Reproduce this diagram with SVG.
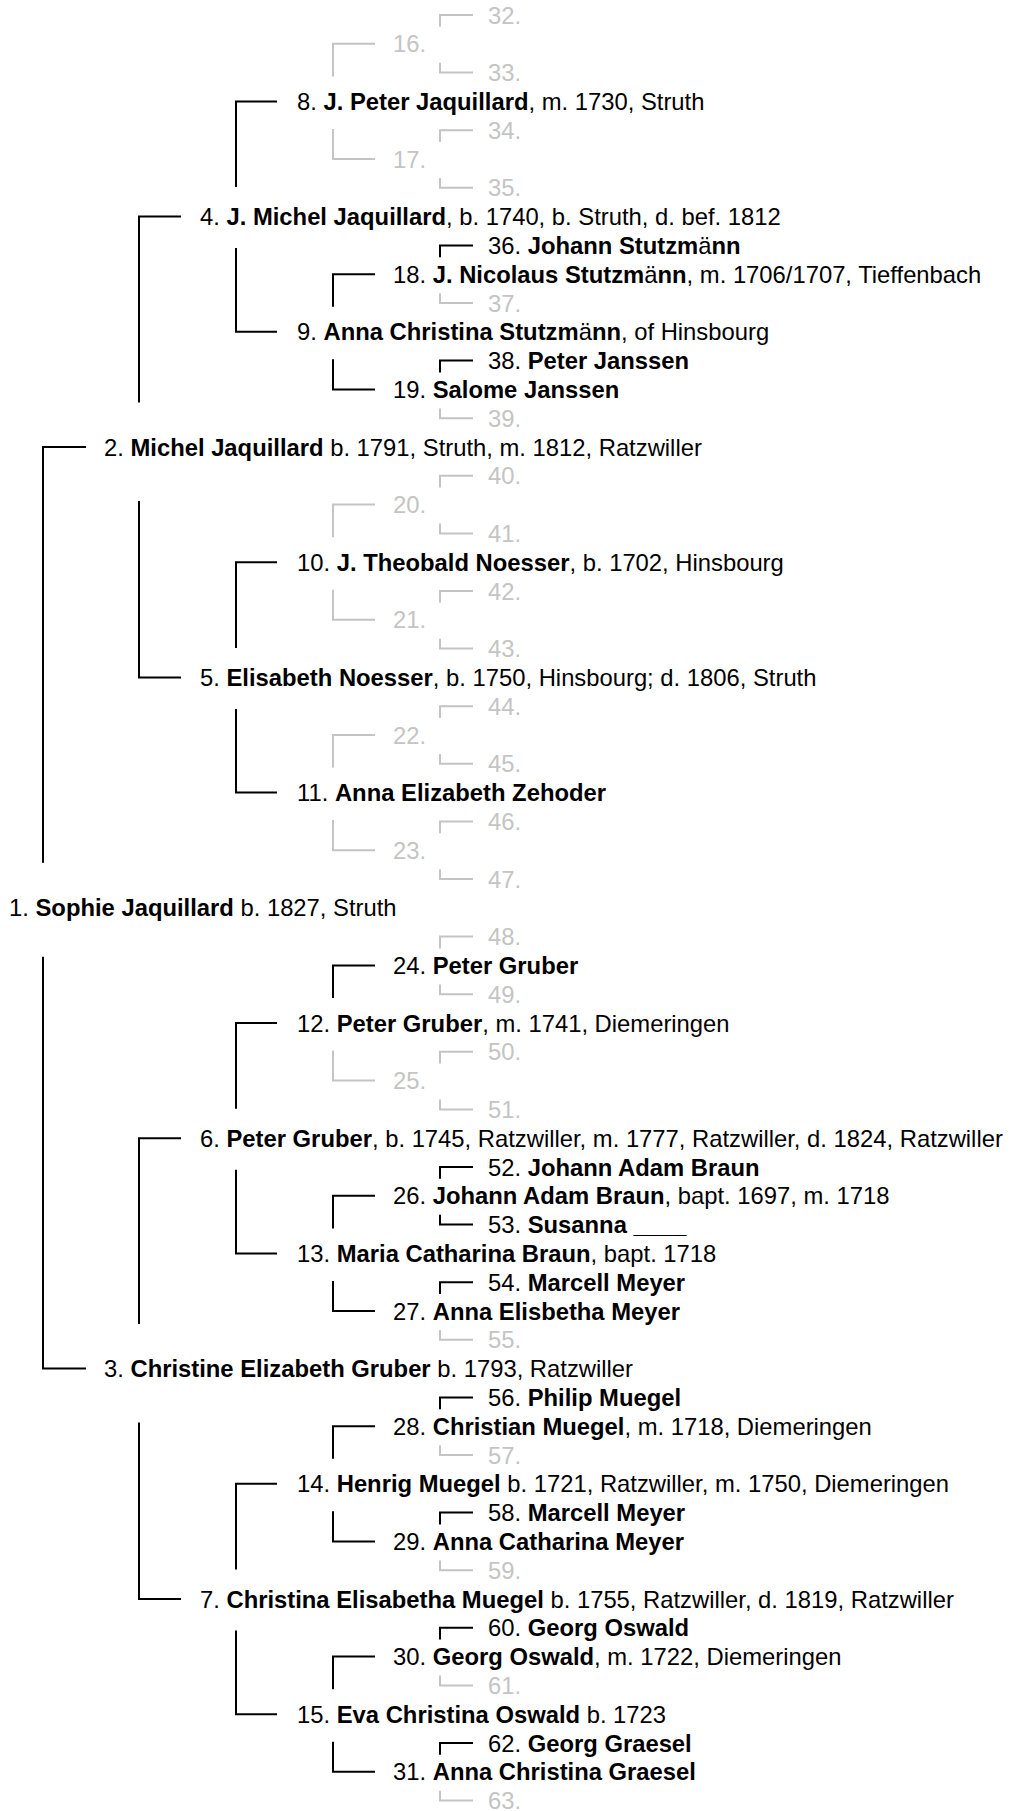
<svg xmlns="http://www.w3.org/2000/svg" width="1010" height="1811" viewBox="0 0 1010 1811">
<style>
text { font-family: "Liberation Sans", Arial, Helvetica, sans-serif; font-size: 23.8px; fill: #000; }
text.u { fill: #c4c4c4; }
.b { font-weight: bold; }
.n { font-weight: normal; }
path { fill: none; stroke-width: 2; stroke-linejoin: miter; stroke-linecap: butt; }
path.k { stroke: #000; }
path.u { stroke: #c4c4c4; }
</style>
<rect width="1010" height="1811" fill="#fff"/>
<g id="connectors">
<!-- person 1 -->
<path class="k" d="M86,447 H43 V862.8"/>
<path class="k" d="M43,956.8 V1368.6 H86"/>
<!-- gen 2 -->
<path class="k" d="M181,216.6 H139 V402.5"/>
<path class="k" d="M139,501 V677.4 H181"/>
<path class="k" d="M181,1138.2 H139 V1324.1"/>
<path class="k" d="M139,1422.6 V1599 H181"/>
<!-- gen 3 -->
<path class="k" d="M277,101.4 H236 V187.1"/>
<path class="k" d="M236,248.1 V331.8 H277"/>
<path class="k" d="M277,562.2 H236 V647.9"/>
<path class="k" d="M236,708.9 V792.6 H277"/>
<path class="k" d="M277,1023 H236 V1108.7"/>
<path class="k" d="M236,1169.7 V1253.4 H277"/>
<path class="k" d="M277,1483.8 H236 V1569.5"/>
<path class="k" d="M236,1630.5 V1714.2 H277"/>
<!-- gen 4 -->
<path class="u" d="M375,43.8 H333 V76.4"/>
<path class="u" d="M333,128.9 V159 H375"/>
<path class="k" d="M375,274.2 H333 V306.8"/>
<path class="k" d="M333,359.3 V389.4 H375"/>
<path class="u" d="M375,504.6 H333 V537.2"/>
<path class="u" d="M333,589.7 V619.8 H375"/>
<path class="u" d="M375,735 H333 V767.6"/>
<path class="u" d="M333,820.1 V850.2 H375"/>
<path class="k" d="M375,965.4 H333 V998"/>
<path class="u" d="M333,1050.5 V1080.6 H375"/>
<path class="k" d="M375,1195.8 H333 V1228.4"/>
<path class="k" d="M333,1280.9 V1311 H375"/>
<path class="k" d="M375,1426.2 H333 V1458.8"/>
<path class="k" d="M333,1511.3 V1541.4 H375"/>
<path class="k" d="M375,1656.6 H333 V1689.2"/>
<path class="k" d="M333,1741.7 V1771.8 H375"/>
<!-- gen 5 -->
<path class="u" d="M473,15 H440 V26.8"/>
<path class="u" d="M440,62.8 V72.6 H473"/>
<path class="u" d="M473,130.2 H440 V142"/>
<path class="u" d="M440,178 V187.8 H473"/>
<path class="k" d="M473,245.4 H440 V257.2"/>
<path class="u" d="M440,293.2 V303 H473"/>
<path class="k" d="M473,360.6 H440 V372.4"/>
<path class="u" d="M440,408.4 V418.2 H473"/>
<path class="u" d="M473,475.8 H440 V487.6"/>
<path class="u" d="M440,523.6 V533.4 H473"/>
<path class="u" d="M473,591 H440 V602.8"/>
<path class="u" d="M440,638.8 V648.6 H473"/>
<path class="u" d="M473,706.2 H440 V718"/>
<path class="u" d="M440,754 V763.8 H473"/>
<path class="u" d="M473,821.4 H440 V833.2"/>
<path class="u" d="M440,869.2 V879 H473"/>
<path class="u" d="M473,936.6 H440 V948.4"/>
<path class="u" d="M440,984.4 V994.2 H473"/>
<path class="u" d="M473,1051.8 H440 V1063.6"/>
<path class="u" d="M440,1099.6 V1109.4 H473"/>
<path class="k" d="M473,1167 H440 V1178.8"/>
<path class="k" d="M440,1214.8 V1224.6 H473"/>
<path class="k" d="M473,1282.2 H440 V1294"/>
<path class="u" d="M440,1330 V1339.8 H473"/>
<path class="k" d="M473,1397.4 H440 V1409.2"/>
<path class="u" d="M440,1445.2 V1455 H473"/>
<path class="k" d="M473,1512.6 H440 V1524.4"/>
<path class="u" d="M440,1560.4 V1570.2 H473"/>
<path class="k" d="M473,1627.8 H440 V1639.6"/>
<path class="u" d="M440,1675.6 V1685.4 H473"/>
<path class="k" d="M473,1743 H440 V1754.8"/>
<path class="u" d="M440,1790.8 V1800.6 H473"/>
</g>
<g id="p1"><text x="9" y="916.3">1. <tspan class="b">Sophie Jaquillard</tspan> b. 1827, Struth</text></g>
<g id="p2"><text x="104" y="455.5">2. <tspan class="b">Michel Jaquillard</tspan> b. 1791, Struth, m. 1812, Ratzwiller</text></g>
<g id="p3"><text x="104" y="1377.1">3. <tspan class="b">Christine Elizabeth Gruber</tspan> b. 1793, Ratzwiller</text></g>
<g id="p4"><text x="200" y="225.1">4. <tspan class="b">J. Michel Jaquillard</tspan>, b. 1740, b. Struth, d. bef. 1812</text></g>
<g id="p5"><text x="200" y="685.9">5. <tspan class="b">Elisabeth Noesser</tspan>, b. 1750, Hinsbourg; d. 1806, Struth</text></g>
<g id="p6"><text x="200" y="1146.7">6. <tspan class="b">Peter Gruber</tspan>, b. 1745, Ratzwiller, m. 1777, Ratzwiller, d. 1824, Ratzwiller</text></g>
<g id="p7"><text x="200" y="1607.5">7. <tspan class="b">Christina Elisabetha Muegel</tspan> b. 1755, Ratzwiller, d. 1819, Ratzwiller</text></g>
<g id="p8"><text x="297" y="109.9">8. <tspan class="b">J. Peter Jaquillard</tspan>, m. 1730, Struth</text></g>
<g id="p9"><text x="297" y="340.3">9. <tspan class="b">Anna Christina Stutzm<tspan class="n">ä</tspan>nn</tspan>, of Hinsbourg</text></g>
<g id="p10"><text x="297" y="570.7">10. <tspan class="b">J. Theobald Noesser</tspan>, b. 1702, Hinsbourg</text></g>
<g id="p11"><text x="297" y="801.1">11. <tspan class="b">Anna Elizabeth Zehoder</tspan></text></g>
<g id="p12"><text x="297" y="1031.5">12. <tspan class="b">Peter Gruber</tspan>, m. 1741, Diemeringen</text></g>
<g id="p13"><text x="297" y="1261.9">13. <tspan class="b">Maria Catharina Braun</tspan>, bapt. 1718</text></g>
<g id="p14"><text x="297" y="1492.3">14. <tspan class="b">Henrig Muegel</tspan> b. 1721, Ratzwiller, m. 1750, Diemeringen</text></g>
<g id="p15"><text x="297" y="1722.7">15. <tspan class="b">Eva Christina Oswald</tspan> b. 1723</text></g>
<g id="p16"><text class="u" x="393" y="52.3">16.</text></g>
<g id="p17"><text class="u" x="393" y="167.5">17.</text></g>
<g id="p18"><text x="393" y="282.7">18. <tspan class="b">J. Nicolaus Stutzm<tspan class="n">ä</tspan>nn</tspan>, m. 1706/1707, Tieffenbach</text></g>
<g id="p19"><text x="393" y="397.9">19. <tspan class="b">Salome Janssen</tspan></text></g>
<g id="p20"><text class="u" x="393" y="513.1">20.</text></g>
<g id="p21"><text class="u" x="393" y="628.3">21.</text></g>
<g id="p22"><text class="u" x="393" y="743.5">22.</text></g>
<g id="p23"><text class="u" x="393" y="858.7">23.</text></g>
<g id="p24"><text x="393" y="973.9">24. <tspan class="b">Peter Gruber</tspan></text></g>
<g id="p25"><text class="u" x="393" y="1089.1">25.</text></g>
<g id="p26"><text x="393" y="1204.3">26. <tspan class="b">Johann Adam Braun</tspan>, bapt. 1697, m. 1718</text></g>
<g id="p27"><text x="393" y="1319.5">27. <tspan class="b">Anna Elisbetha Meyer</tspan></text></g>
<g id="p28"><text x="393" y="1434.7">28. <tspan class="b">Christian Muegel</tspan>, m. 1718, Diemeringen</text></g>
<g id="p29"><text x="393" y="1549.9">29. <tspan class="b">Anna Catharina Meyer</tspan></text></g>
<g id="p30"><text x="393" y="1665.1">30. <tspan class="b">Georg Oswald</tspan>, m. 1722, Diemeringen</text></g>
<g id="p31"><text x="393" y="1780.3">31. <tspan class="b">Anna Christina Graesel</tspan></text></g>
<g id="p32"><text class="u" x="488" y="23.5">32.</text></g>
<g id="p33"><text class="u" x="488" y="81.1">33.</text></g>
<g id="p34"><text class="u" x="488" y="138.7">34.</text></g>
<g id="p35"><text class="u" x="488" y="196.3">35.</text></g>
<g id="p36"><text x="488" y="253.9">36. <tspan class="b">Johann Stutzm<tspan class="n">ä</tspan>nn</tspan></text></g>
<g id="p37"><text class="u" x="488" y="311.5">37.</text></g>
<g id="p38"><text x="488" y="369.1">38. <tspan class="b">Peter Janssen</tspan></text></g>
<g id="p39"><text class="u" x="488" y="426.7">39.</text></g>
<g id="p40"><text class="u" x="488" y="484.3">40.</text></g>
<g id="p41"><text class="u" x="488" y="541.9">41.</text></g>
<g id="p42"><text class="u" x="488" y="599.5">42.</text></g>
<g id="p43"><text class="u" x="488" y="657.1">43.</text></g>
<g id="p44"><text class="u" x="488" y="714.7">44.</text></g>
<g id="p45"><text class="u" x="488" y="772.3">45.</text></g>
<g id="p46"><text class="u" x="488" y="829.9">46.</text></g>
<g id="p47"><text class="u" x="488" y="887.5">47.</text></g>
<g id="p48"><text class="u" x="488" y="945.1">48.</text></g>
<g id="p49"><text class="u" x="488" y="1002.7">49.</text></g>
<g id="p50"><text class="u" x="488" y="1060.3">50.</text></g>
<g id="p51"><text class="u" x="488" y="1117.9">51.</text></g>
<g id="p52"><text x="488" y="1175.5">52. <tspan class="b">Johann Adam Braun</tspan></text></g>
<g id="p53"><text x="488" y="1233.1">53. <tspan class="b">Susanna ____</tspan></text></g>
<g id="p54"><text x="488" y="1290.7">54. <tspan class="b">Marcell Meyer</tspan></text></g>
<g id="p55"><text class="u" x="488" y="1348.3">55.</text></g>
<g id="p56"><text x="488" y="1405.9">56. <tspan class="b">Philip Muegel</tspan></text></g>
<g id="p57"><text class="u" x="488" y="1463.5">57.</text></g>
<g id="p58"><text x="488" y="1521.1">58. <tspan class="b">Marcell Meyer</tspan></text></g>
<g id="p59"><text class="u" x="488" y="1578.7">59.</text></g>
<g id="p60"><text x="488" y="1636.3">60. <tspan class="b">Georg Oswald</tspan></text></g>
<g id="p61"><text class="u" x="488" y="1693.9">61.</text></g>
<g id="p62"><text x="488" y="1751.5">62. <tspan class="b">Georg Graesel</tspan></text></g>
<g id="p63"><text class="u" x="488" y="1809.1">63.</text></g>
</svg>
